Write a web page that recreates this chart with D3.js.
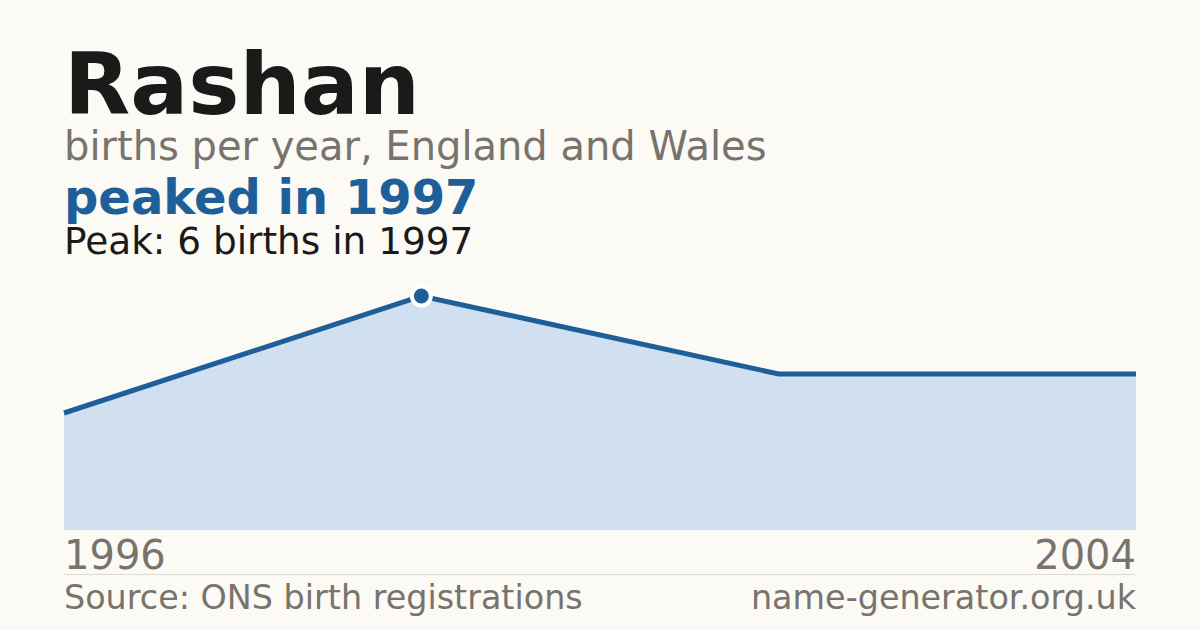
<!DOCTYPE html>
<html>
<head>
<meta charset="utf-8">
<script src="https://cdn.jsdelivr.net/npm/d3@7"></script>
<style>
  html, body { margin: 0; padding: 0; background: #fbfaf5; }
  svg { display: block; font-family: "DejaVu Sans", sans-serif; }
</style>
</head>
<body>
<svg id="chart" width="1200" height="630"></svg>
<script>
// 数据
const years = ["1996", "1997", "2003", "2004"];
const births = [3, 6, 4, 4];
const axisLabels = ["1996", "2004"];

const width = 1200;
const height = 630;
const left = 64, right = 1136;
const baseY = 530, topY = 296;

const svg = d3.select("#chart");

svg.append("rect").attr("width", width).attr("height", height).attr("fill", "#fbfaf5");

// 标题文字
svg.append("text").attr("x", left).attr("y", 114)
    .attr("font-size", 86).attr("font-weight", "bold").attr("fill", "#1a1a1a")
    .text("Rashan");
svg.append("text").attr("x", left).attr("y", 160)
    .attr("font-size", 40).attr("fill", "#78736c")
    .text("births per year, England and Wales");
svg.append("text").attr("x", left).attr("y", 214)
    .attr("font-size", 48).attr("font-weight", "bold").attr("fill", "#1f5f99")
    .text("peaked in 1997");
svg.append("text").attr("x", left).attr("y", 254)
    .attr("font-size", 37.4).attr("fill", "#1a1a1a")
    .text("Peak: 6 births in 1997");

const data = years.map((y, i) => ({ year: y, value: births[i] }));

const x = d3.scalePoint().domain(years).range([left, right]);
const y = d3.scaleLinear().domain([0, d3.max(births)]).range([baseY, topY]);

const area = d3.area()
    .x(d => x(d.year))
    .y0(baseY)
    .y1(d => y(d.value));

const line = d3.line()
    .x(d => x(d.year))
    .y(d => y(d.value));

svg.append("path").datum(data)
    .attr("d", area)
    .attr("fill", "#d0e0f0");

svg.append("path").datum(data)
    .attr("d", line)
    .attr("fill", "none")
    .attr("stroke", "#1f5f99")
    .attr("stroke-width", 5)
    .attr("stroke-linejoin", "miter");

// 峰值标记
const peak = data.reduce((a, b) => (b.value > a.value ? b : a));
svg.append("circle")
    .attr("cx", x(peak.year)).attr("cy", y(peak.value))
    .attr("r", 9.5)
    .attr("fill", "#1f5f99")
    .attr("stroke", "#ffffff")
    .attr("stroke-width", 4);

// 年份标签
svg.append("text").attr("x", left).attr("y", 569)
    .attr("font-size", 40).attr("fill", "#78736c")
    .text(axisLabels[0]);
svg.append("text").attr("x", right).attr("y", 569)
    .attr("font-size", 40).attr("fill", "#78736c").attr("text-anchor", "end")
    .text(axisLabels[1]);

svg.append("line")
    .attr("x1", left).attr("x2", right)
    .attr("y1", 574.5).attr("y2", 574.5)
    .attr("stroke", "#dcdad4").attr("stroke-width", 1);

// 页脚
svg.append("text").attr("x", left).attr("y", 609)
    .attr("font-size", 33.4).attr("fill", "#78736c")
    .text("Source: ONS birth registrations");
svg.append("text").attr("x", right).attr("y", 609)
    .attr("font-size", 33.4).attr("fill", "#78736c").attr("text-anchor", "end")
    .text("name-generator.org.uk");
</script>
</body>
</html>
